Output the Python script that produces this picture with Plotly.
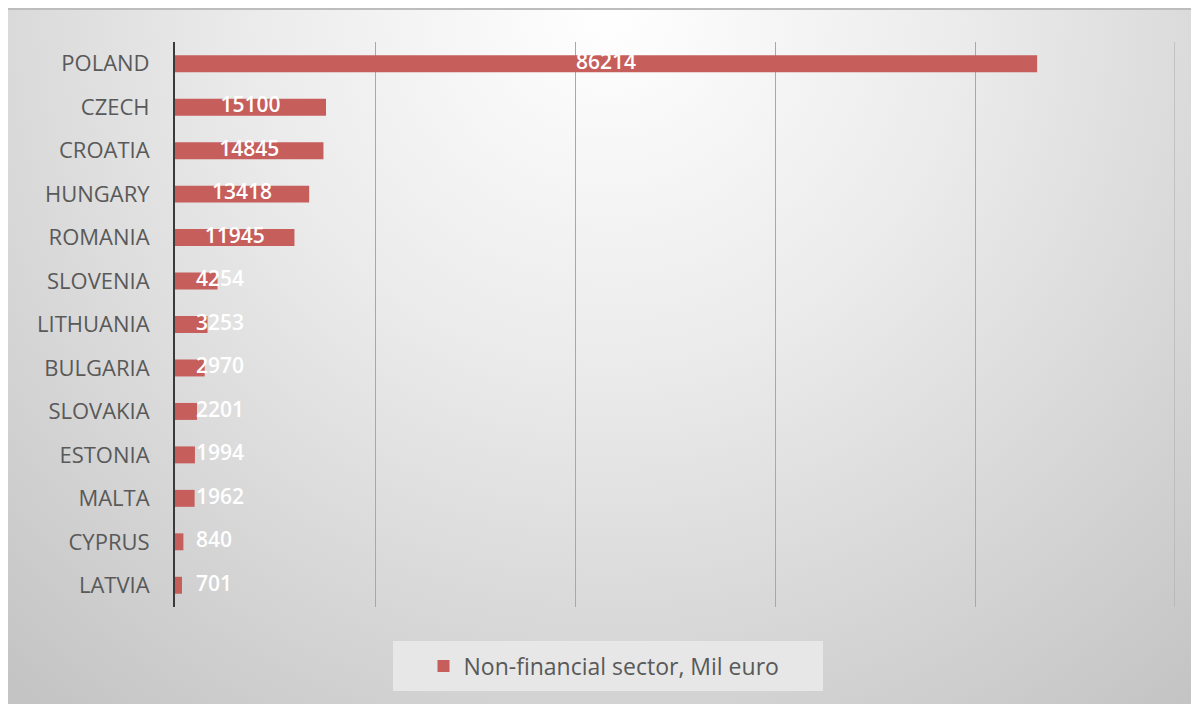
import plotly.graph_objects as go
import urllib.parse

countries = ["POLAND", "CZECH", "CROATIA", "HUNGARY", "ROMANIA", "SLOVENIA",
             "LITHUANIA", "BULGARIA", "SLOVAKIA", "ESTONIA", "MALTA", "CYPRUS", "LATVIA"]
values = [86214, 15100, 14845, 13418, 11945, 4254, 3253, 2970, 2201, 1994, 1962, 840, 701]
series_name = "Non-financial sector, Mil euro"
x_max = 100000
x_step = 20000

BAR = "#C65E5B"
FONT = "Open Sans, Noto Sans, sans-serif"

# label placement derived from values
lab_x = [v / 2 if v > 10000 else 2100 for v in values]
lab_pos = ["middle center" if v > 10000 else "middle right" for v in values]

fig = go.Figure()
fig.add_trace(go.Bar(
    y=countries, x=values, orientation="h", name=series_name,
    marker=dict(color=BAR, line=dict(width=0)),
))
fig.add_trace(go.Scatter(
    y=countries, x=lab_x, mode="text", text=[str(v) for v in values],
    textposition=lab_pos, showlegend=False, hoverinfo="skip",
    textfont=dict(color="white", size=21, family=FONT, weight=600),
))

W, H = 1199, 704
L, R, T, B = 167, 32, 34, 105
pw, ph = W - L - R, H - T - B

svg = (f'<svg xmlns="http://www.w3.org/2000/svg" width="{W}" height="{H}" preserveAspectRatio="none">'
       '<defs><radialGradient id="g" gradientUnits="userSpaceOnUse" cx="600" cy="0" r="900" fx="600" fy="0">'
       '<stop offset="0" stop-color="#ffffff"/>'
       '<stop offset="0.4" stop-color="#ebebeb"/>'
       '<stop offset="1" stop-color="#c4c4c4"/>'
       '</radialGradient></defs>'
       f'<rect width="{W}" height="{H}" fill="url(#g)"/>'
       f'<rect x="0" y="0" width="{W}" height="2" fill="#bdbdbd"/>'
       '</svg>')
src = "data:image/svg+xml;charset=utf-8," + urllib.parse.quote(svg)


def px(x):
    return (x - L) / pw


def py(y):
    return (H - B - y) / ph


fig.add_layout_image(dict(
    source=src, xref="paper", yref="paper",
    x=px(0), y=py(0), sizex=W / pw, sizey=H / ph,
    xanchor="left", yanchor="top", sizing="stretch", layer="below",
))

# legend box
fig.add_shape(type="rect", xref="paper", yref="paper",
              x0=px(385), x1=px(815), y0=py(683), y1=py(633),
              fillcolor="#e7e7e7", line=dict(width=0), layer="below")
# last gridline at the end of the value axis
fig.add_shape(type="line", xref="x", yref="paper", x0=x_max, x1=x_max, y0=0, y1=1,
              line=dict(color="#a8a8a8", width=1), layer="below")

fig.update_layout(
    width=W, height=H,
    margin=dict(l=L, r=R, t=T, b=B),
    paper_bgcolor="white", plot_bgcolor="rgba(0,0,0,0)",
    bargap=0.61,
    font=dict(family=FONT, color="#595959"),
    showlegend=True,
    legend=dict(orientation="h", x=px(596), y=py(658), xanchor="center", yanchor="middle",
                bgcolor="rgba(0,0,0,0)", font=dict(size=23, color="#595959", family=FONT)),
    xaxis=dict(range=[0, x_max], dtick=x_step, showticklabels=False, ticks="",
               showgrid=True, gridcolor="#a8a8a8", gridwidth=1, zeroline=False,
               fixedrange=True),
    yaxis=dict(range=[len(countries) - 0.5, -0.5], showline=True, linecolor="#3a3a3a", linewidth=2,
               ticks="", ticklabelstandoff=19, tickfont=dict(size=22, color="#595959", family=FONT),
               showgrid=False),
)

fig.write_html("out.html")
